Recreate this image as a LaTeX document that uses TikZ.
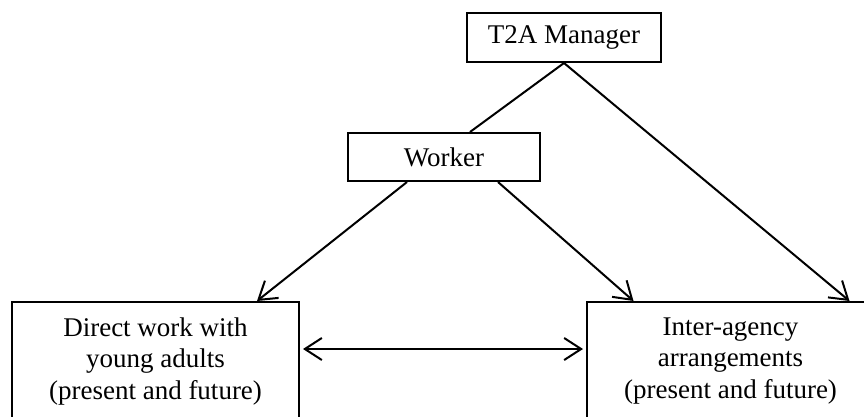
\documentclass[tikz,border=0pt]{standalone}
\usepackage{fontspec}
\setmainfont{Liberation Serif}
\usetikzlibrary{arrows.meta}

\begin{document}
\begin{tikzpicture}[x=1pt,y=-1pt,
    box/.style={draw,line width=2pt,inner sep=0pt,align=center,
        font=\fontsize{27}{31.5}\selectfont},
    link/.style={line width=2pt},
    >={Straight Barb[length=17pt,width=22pt,line width=2pt]}]
    \useasboundingbox (0,0) rectangle (864,416);
    \clip (0,0) rectangle (864,416);

    % Top: manager and worker
    \node[box,minimum width=194pt,minimum height=49pt] (manager) at (564,37.5) {T2A Manager};
    \node[box,minimum width=192pt,minimum height=48pt] (worker) at (444,157) {Worker};

    % Bottom: the two areas of work
    \node[box,minimum width=287pt,minimum height=118pt] (direct) at (155.5,361)
        {Direct work with\\young adults\\(present and future)};
    \node[box,minimum width=287pt,minimum height=118pt] (inter) at (730.5,361)
        {Inter-agency\\arrangements\\(present and future)};

    % Links
    \draw[link] (manager.south) -- ([xshift=26pt]worker.north);
    \draw[link,->] (manager.south) -- ([xshift=119pt]inter.north);
    \draw[link,->] ([xshift=-37pt]worker.south) -- ([xshift=101.5pt]direct.north);
    \draw[link,->] ([xshift=54pt]worker.south) -- ([xshift=-97pt]inter.north);
    \draw[link,<->,shorten <=3pt,shorten >=3pt]
        ([yshift=-48pt]direct.north east) -- ([yshift=-48pt]inter.north west);
\end{tikzpicture}
\end{document}
